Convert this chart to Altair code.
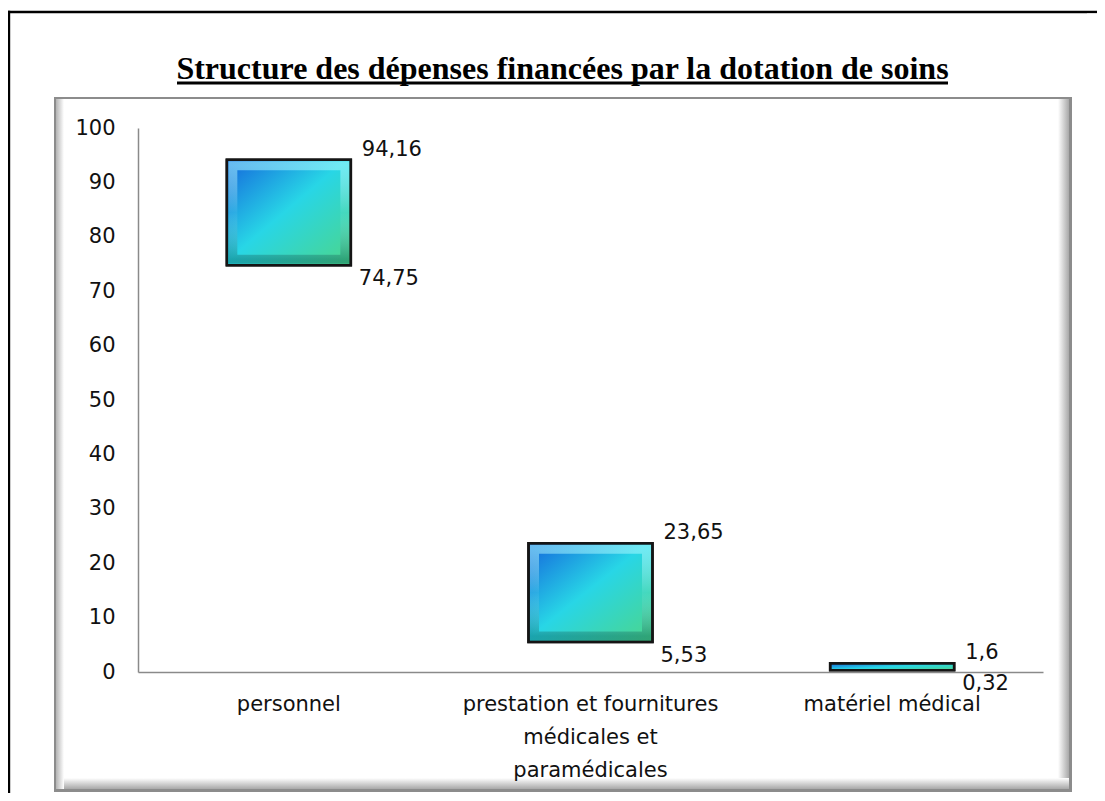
import altair as alt
import pandas as pd

# ---------------- data ----------------
categories = ["personnel",
              "prestation et fournitures médicales et paramédicales",
              "matériel médical"]
low_values = [74.75, 5.53, 0.32]
high_values = [94.16, 23.65, 1.6]
low_labels = ["74,75", "5,53", "0,32"]
high_labels = ["94,16", "23,65", "1,6"]
wrapped_labels = {
    "prestation et fournitures médicales et paramédicales":
        ["prestation et fournitures", "médicales et", "paramédicales"],
}
y_ticks = [0, 10, 20, 30, 40, 50, 60, 70, 80, 90, 100]
title_text = "Structure des dépenses financées par la dotation de soins"

df = pd.DataFrame({
    "cat": categories,
    "low": low_values,
    "high": high_values,
    "low_label": low_labels,
    "high_label": high_labels,
})
df["span"] = df["high"] - df["low"]
one = pd.DataFrame({"k": [0]})

W, H = 905, 544
PAD_L, PAD_T, PAD_R, PAD_B = 130, 120, 54, 121
BAR = 124
FONT = "DejaVu Sans"

# label expression to wrap long category names
expr = "datum.label"
for k, lines in wrapped_labels.items():
    arr = "[" + ",".join("'" + s + "'" for s in lines) + "]"
    expr = f"datum.label == '{k}' ? {arr} : ({expr})"

x_enc = alt.X("cat:N", sort=categories,
              scale=alt.Scale(paddingInner=0.59, paddingOuter=0.295),
              axis=alt.Axis(title=None, labelAngle=0, labelFont=FONT, labelFontSize=21,
                            labelColor="#111", labelPadding=21, labelLineHeight=33,
                            labelExpr=expr, labelOverlap=False, labelLimit=400,
                            domainColor="#8a8a8a", domainWidth=1.5, ticks=False, zindex=1))
y_enc = alt.Y("high:Q", scale=alt.Scale(domain=[0, 100], nice=False),
              axis=alt.Axis(title=None, values=y_ticks, grid=False, ticks=False,
                            labelFont=FONT, labelFontSize=21, labelColor="#111",
                            labelPadding=23, domainColor="#8a8a8a", domainWidth=1.5,
                            zindex=1))

main_grad = {"gradient": "linear", "x1": 0, "y1": 0, "x2": 1, "y2": 1,
             "stops": [{"offset": 0, "color": "#1466dc"},
                       {"offset": 0.48, "color": "#28d6e6"},
                       {"offset": 1, "color": "#4cd68a"}]}
bevel_grad = {"gradient": "linear", "x1": 0, "y1": 0, "x2": 0, "y2": 1,
              "stops": [{"offset": 0, "color": "rgba(170,250,255,0.55)"},
                        {"offset": 0.5, "color": "rgba(255,255,255,0.06)"},
                        {"offset": 1, "color": "rgba(0,70,70,0.35)"}]}

# ---------------- decorations ----------------
right_edge = W + PAD_R  # right edge of the drawing, in plot coordinates
border_top = alt.Chart(one).mark_rect(fill="black").encode(
    x=alt.value(-130), x2=alt.value(right_edge), y=alt.value(-117.2), y2=alt.value(-114.8))
border_left = alt.Chart(one).mark_rect(fill="black").encode(
    x=alt.value(-130.2), x2=alt.value(-127.8), y=alt.value(-117.2), y2=alt.value(H + PAD_B))
inner_gray = alt.Chart(one).mark_rect(fill="#8c8c8c").encode(
    x=alt.value(-84), x2=alt.value(934), y=alt.value(-31), y2=alt.value(664))
right_shadow = alt.Chart(one).mark_rect(
    fill={"gradient": "linear", "x1": 0, "y1": 0, "x2": 1, "y2": 0,
          "stops": [{"offset": 0, "color": "#ffffff"}, {"offset": 1, "color": "#a8a8a8"}]}).encode(
    x=alt.value(920), x2=alt.value(931), y=alt.value(-29), y2=alt.value(661))
bottom_shadow = alt.Chart(one).mark_rect(
    fill={"gradient": "linear", "x1": 0, "y1": 0, "x2": 0, "y2": 1,
          "stops": [{"offset": 0, "color": "#ffffff"}, {"offset": 1, "color": "#a8a8a8"}]}).encode(
    x=alt.value(-82), x2=alt.value(931), y=alt.value(650), y2=alt.value(661))
left_shadow = alt.Chart(one).mark_rect(
    fill={"gradient": "linear", "x1": 0, "y1": 0, "x2": 1, "y2": 0,
          "stops": [{"offset": 0, "color": "#b4b4b4"}, {"offset": 1, "color": "#ffffff"}]}).encode(
    x=alt.value(-82), x2=alt.value(-74), y=alt.value(-29), y2=alt.value(661))
inner_white = alt.Chart(one).mark_rect(fill="white").encode(
    x=alt.value(-74), x2=alt.value(920), y=alt.value(-29), y2=alt.value(650))
# white strip along the right edge, below the top border
right_cover = alt.Chart(one).mark_rect(fill="white").encode(
    x=alt.value(right_edge - 10), x2=alt.value(right_edge + 2),
    y=alt.value(-114.6), y2=alt.value(H + PAD_B + 2))

title = alt.Chart(one).mark_text(text=title_text, font="Liberation Serif", fontSize=32,
                                 fontWeight="bold", align="center", baseline="alphabetic",
                                 color="black").encode(x=alt.value(424.5), y=alt.value(-49))
underline = alt.Chart(one).mark_rule(color="black", strokeWidth=3).encode(
    x=alt.value(39), x2=alt.value(810), y=alt.value(-45))

# ---------------- bars & labels ----------------
base = alt.Chart(df).encode(x=x_enc)
bars = base.mark_bar(size=BAR, fill=main_grad, stroke="#151515", strokeWidth=2.5).encode(
    y=y_enc, y2="low:Q")
bevel = base.transform_filter("datum.span > 5").mark_bar(
    size=BAR - 12, fillOpacity=0, stroke=bevel_grad, strokeWidth=9,
    yOffset=6, y2Offset=-6).encode(y=y_enc, y2="low:Q")
outline = base.mark_bar(size=BAR, fillOpacity=0, stroke="#151515", strokeWidth=2.5).encode(
    y=y_enc, y2="low:Q")
hi_text = base.mark_text(align="left", baseline="middle", dx=BAR / 2 + 11, dy=-10,
                         font=FONT, fontSize=21, color="#111").encode(
    y=alt.Y("high:Q"), text="high_label:N")
lo_text = base.mark_text(align="left", baseline="middle", dx=BAR / 2 + 8, dy=14,
                         font=FONT, fontSize=21, color="#111").encode(
    y=alt.Y("low:Q"), text="low_label:N")

chart = alt.layer(border_top, border_left, inner_gray, right_shadow, bottom_shadow, left_shadow,
                  inner_white, title, underline, bars, bevel, outline, hi_text, lo_text,
                  right_cover
                  ).properties(
    width=W, height=H,
    padding={"left": PAD_L, "top": PAD_T, "right": PAD_R, "bottom": PAD_B},
    autosize=alt.AutoSizeParams(type="none"),
    background="white",
).configure_view(stroke=None)

chart.save("out.html", embed_options={"renderer": "svg", "actions": False})
